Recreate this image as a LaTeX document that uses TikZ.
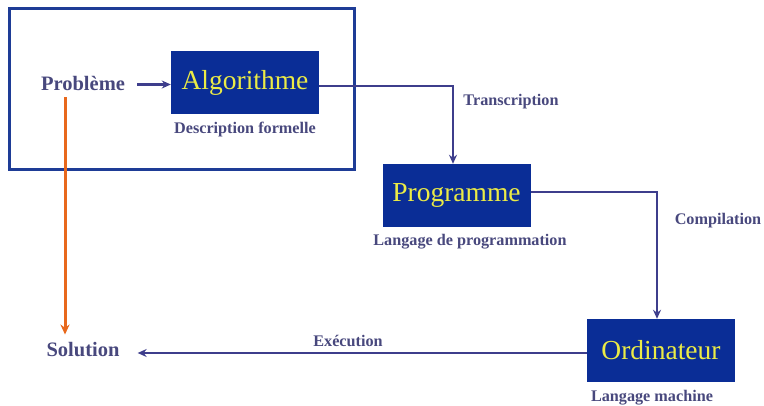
\documentclass[tikz,border=0pt]{standalone}
\usepackage{fontspec}
\setmainfont{Liberation Serif}
\usetikzlibrary{arrows.meta}
\definecolor{boxblue}{RGB}{10,45,150}
\definecolor{boxtext}{RGB}{235,235,70}
\definecolor{lbl}{RGB}{72,72,125}
\definecolor{conn}{RGB}{62,62,140}
\definecolor{framec}{RGB}{30,60,150}
\definecolor{orangec}{RGB}{232,104,28}
\tikzset{
  bluebox/.style={fill=boxblue, text=boxtext, minimum width=148pt, minimum height=63pt, inner sep=0pt, font=\fontsize{27.5}{29}\selectfont},
  biglbl/.style={text=lbl, font=\fontsize{20.5}{22}\selectfont\bfseries, inner sep=0pt},
  smalllbl/.style={text=lbl, font=\fontsize{16.2}{18}\selectfont\bfseries, inner sep=0pt},
  connector/.style={draw=conn, line width=2.8pt, -{Stealth[length=9pt,width=8pt]}},
}
\begin{document}
\begin{tikzpicture}[x=1pt,y=-1pt]
\useasboundingbox (0,0) rectangle (764,406);
\draw[framec, line width=3pt] (9,9) rectangle (354,170);
\node[bluebox] (alg) at (245,82.5) {Algorithme};
\node[bluebox] (prog) at (456.5,195.5) {Programme};
\node[bluebox] (ord) at (661,350.5) {Ordinateur};
\node[biglbl] (prob) at (83,83) {Problème};
\node[biglbl] (sol) at (83,350) {Solution};
\node[smalllbl] (desc) at (245,130) {Description formelle};
\node[smalllbl] (lprog) at (470,242) {Langage de programmation};
\node[smalllbl] (lmach) at (652,398) {Langage machine};
\node[smalllbl] (ltrans) at (511,102) {Transcription};
\node[smalllbl] (lcomp) at (718,221) {Compilation};
\node[smalllbl] (lexec) at (348,341) {Exécution};
\coordinate (pa) at ([yshift=-2pt]alg.west);
\draw[connector] ([xshift=12pt]pa -| prob.east) -- (pa);
\draw[connector] ([yshift=-3.5pt]alg.east) -| ([xshift=-3.5pt]prog.north);
\draw[connector] ([yshift=3.5pt]prog.east) -| ([xshift=-4pt]ord.north);
\coordinate (ex) at ([yshift=-2.5pt]ord.west);
\draw[connector] (ex) -- ([xshift=18pt]ex -| sol.east);
\draw[draw=orangec, line width=3pt, -{Stealth[length=10pt,width=9pt]}] ([xshift=-18pt,yshift=-7pt]prob.south) -- ([xshift=-18pt,yshift=8pt]sol.north);
\end{tikzpicture}
\end{document}
